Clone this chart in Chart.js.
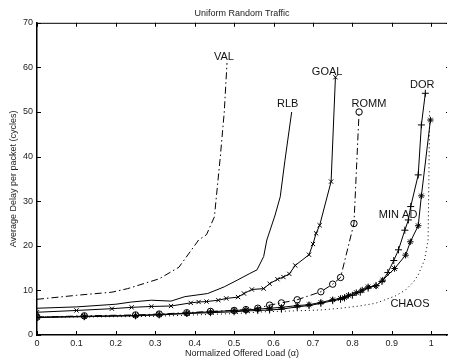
<!DOCTYPE html>
<html>
<head>
<meta charset="utf-8">
<title>Uniform Random Traffic</title>
<script src="https://cdn.jsdelivr.net/npm/chart.js@4.4.0/dist/chart.umd.min.js"></script>
<style>
    html, body { margin: 0; padding: 0; background: #fff; }
    #chart { display: block; }
</style>
</head>
<body>
<canvas id="chart" width="452" height="362"></canvas>
<script>
// axis ticks
const xTicks = [0, 0.1, 0.2, 0.3, 0.4, 0.5, 0.6, 0.7, 0.8, 0.9, 1];
const xTickLabels = ['0', '0.1', '0.2', '0.3', '0.4', '0.5', '0.6', '0.7', '0.8', '0.9', '1'];
const yTicks = [0, 10, 20, 30, 40, 50, 60, 70];

// curves (offered load -> delay in cycles)
const valLoad = [0, 0.1, 0.19, 0.23, 0.31, 0.36, 0.41, 0.43, 0.45, 0.465, 0.475, 0.482];
const valDelay = [8, 8.9, 9.6, 10.4, 12.6, 15.2, 21.3, 22.5, 26.5, 40, 50, 61];

const rlbLoad = [0, 0.1, 0.2, 0.24, 0.29, 0.34, 0.375, 0.433, 0.475, 0.508, 0.54, 0.558, 0.575, 0.583, 0.604, 0.617, 0.629, 0.646];
const rlbDelay = [6, 6.3, 6.9, 7.4, 7.8, 7.6, 8.6, 9.3, 10.8, 12.3, 13.8, 14.6, 17.6, 21.3, 26.9, 31, 39.2, 50];

const goalLoad = [0, 0.1, 0.19, 0.24, 0.29, 0.34, 0.39, 0.41, 0.43, 0.46, 0.48, 0.51, 0.525, 0.545, 0.575, 0.59, 0.61, 0.625, 0.64, 0.655, 0.69, 0.70, 0.708, 0.717, 0.746, 0.757];
const goalDelay = [5.1, 5.5, 5.9, 6.2, 6.4, 6.5, 7.2, 7.4, 7.5, 7.8, 8.2, 8.5, 9.3, 10.2, 10.4, 11.5, 12.5, 13, 13.7, 15.6, 18, 20.4, 22.8, 24.6, 34.4, 57.8];

const rommLoad = [0, 0.12, 0.25, 0.31, 0.38, 0.44, 0.5, 0.53, 0.56, 0.59, 0.62, 0.66, 0.72, 0.75, 0.77, 0.804, 0.817];
const rommDelay = [4, 4.3, 4.5, 4.7, 5.0, 5.3, 5.5, 5.7, 6.0, 6.7, 7.2, 7.9, 9.7, 11.4, 12.9, 25, 50];

const dorLoad = [0, 0.12, 0.25, 0.31, 0.38, 0.44, 0.5, 0.53, 0.56, 0.59, 0.62, 0.66, 0.69, 0.72, 0.75, 0.77, 0.78, 0.8, 0.82, 0.84, 0.86, 0.875, 0.89, 0.905, 0.917, 0.933, 0.942, 0.948, 0.967, 0.975, 0.985];
const dorDelay = [3.9, 4.1, 4.3, 4.5, 4.8, 5.0, 5.2, 5.4, 5.5, 5.6, 5.8, 6.3, 6.6, 7.1, 7.7, 8.0, 8.3, 8.9, 9.6, 10.5, 11.1, 12.0, 14.0, 16.7, 19.1, 23.5, 25.8, 28.8, 35.9, 47.1, 54.2];

const minAdLoad = [0, 0.12, 0.25, 0.31, 0.38, 0.44, 0.5, 0.53, 0.56, 0.59, 0.62, 0.66, 0.69, 0.72, 0.75, 0.77, 0.78, 0.79, 0.81, 0.825, 0.84, 0.86, 0.877, 0.907, 0.935, 0.947, 0.967, 0.975, 0.998];
const minAdDelay = [4, 4.2, 4.4, 4.6, 4.9, 5.2, 5.5, 5.6, 5.8, 6.0, 6.2, 6.6, 6.8, 7.3, 7.9, 8.2, 8.4, 8.9, 9.5, 10.1, 10.8, 11.0, 12.3, 14.9, 17.9, 20.9, 24.5, 31.2, 48.2];

const chaosLoad = [0, 0.1, 0.2, 0.3, 0.4, 0.5, 0.575, 0.65, 0.717, 0.77, 0.817, 0.858, 0.883, 0.91, 0.935, 0.955, 0.967, 0.983, 0.992, 0.994, 0.996];
const chaosDelay = [4, 4.05, 4.1, 4.2, 4.5, 4.8, 5.2, 5.4, 5.6, 6.0, 6.5, 7.1, 7.9, 8.8, 10.1, 11.9, 13.5, 16.8, 21.3, 35, 50.5];

// curve names written inside the plot, in data coordinates
const curveLabels = [
    { text: 'VAL', x: 0.474, y: 62.3 },
    { text: 'RLB', x: 0.636, y: 51.8 },
    { text: 'GOAL', x: 0.736, y: 58.9 },
    { text: 'ROMM', x: 0.842, y: 51.8 },
    { text: 'DOR', x: 0.977, y: 56.0 },
    { text: 'MIN AD', x: 0.916, y: 26.9 },
    { text: 'CHAOS', x: 0.946, y: 6.95 }
];

const FONT = '"Liberation Sans", Arial, Helvetica, sans-serif';
const DASH_DOT = [7, 3, 1.5, 3];

const toPoints = (xs, ys) => xs.map((x, i) => ({ x: x, y: ys[i] }));

const series = (label, xs, ys, style) => Object.assign({
    label: label,
    data: toPoints(xs, ys),
    borderColor: '#000',
    backgroundColor: 'transparent',
    borderWidth: 1,
    pointRadius: 0,
    pointBorderColor: '#000',
    pointBackgroundColor: 'transparent',
    pointBorderWidth: 1,
    tension: 0
}, style);

// MATLAB style box: inward ticks, top edge and curve names
const matlabAxes = {
    id: 'matlabAxes',
    afterDatasetsDraw(chart) {
        const { ctx, chartArea: area, scales: { x, y } } = chart;
        ctx.save();
        ctx.strokeStyle = '#000';
        ctx.lineWidth = 1;
        ctx.beginPath();
        ctx.moveTo(area.left, area.top + 0.5);
        ctx.lineTo(area.right, area.top + 0.5);
        xTicks.forEach(v => {
            const px = Math.round(x.getPixelForValue(v)) + 0.5;
            ctx.moveTo(px, area.bottom);
            ctx.lineTo(px, area.bottom - 4);
            ctx.moveTo(px, area.top);
            ctx.lineTo(px, area.top + 4);
        });
        yTicks.forEach(v => {
            const py = Math.round(y.getPixelForValue(v)) + 0.5;
            ctx.moveTo(area.left, py);
            ctx.lineTo(area.left + 4, py);
            ctx.moveTo(area.right, py);
            ctx.lineTo(area.right - 1, py);
        });
        ctx.stroke();

        ctx.font = '11px ' + FONT;
        ctx.fillStyle = '#111';
        ctx.textAlign = 'center';
        ctx.textBaseline = 'middle';
        curveLabels.forEach(l => {
            ctx.fillText(l.text, x.getPixelForValue(l.x), y.getPixelForValue(l.y));
        });
        ctx.restore();
    }
};

new Chart(document.getElementById('chart'), {
    type: 'line',
    data: {
        datasets: [
            series('VAL', valLoad, valDelay, { borderDash: DASH_DOT }),
            series('RLB', rlbLoad, rlbDelay, {}),
            series('GOAL', goalLoad, goalDelay, { pointStyle: 'crossRot', pointRadius: 3 }),
            series('ROMM', rommLoad, rommDelay, { borderDash: DASH_DOT, pointStyle: 'circle', pointRadius: 3.2 }),
            series('DOR', dorLoad, dorDelay, { pointStyle: 'cross', pointRadius: 3.5 }),
            series('MIN AD', minAdLoad, minAdDelay, { pointStyle: 'star', pointRadius: 3.2 }),
            series('CHAOS', chaosLoad, chaosDelay, { borderDash: [1, 3] })
        ]
    },
    options: {
        responsive: false,
        animation: false,
        devicePixelRatio: 1,
        layout: { padding: 0 },
        plugins: {
            legend: { display: false },
            tooltip: { enabled: false },
            title: {
                display: true,
                text: 'Uniform Random Traffic',
                fullSize: false,
                color: '#222',
                font: { family: FONT, size: 9, weight: 'normal' },
                padding: { top: 8, bottom: 4 }
            }
        },
        scales: {
            x: {
                type: 'linear',
                min: 0,
                max: 1.04,
                afterBuildTicks: s => { s.ticks = xTicks.map(v => ({ value: v })); },
                afterFit: s => { s.height = 27; },
                ticks: {
                    callback: (v, i) => xTickLabels[i],
                    autoSkip: false,
                    maxRotation: 0,
                    padding: 3,
                    color: '#222',
                    font: { family: FONT, size: 9 }
                },
                grid: { display: false, drawTicks: false },
                border: { color: '#000', width: 1.5 },
                title: {
                    display: true,
                    text: 'Normalized Offered Load (α)',
                    color: '#222',
                    font: { family: FONT, size: 9 },
                    padding: { top: 0, bottom: 3 }
                }
            },
            y: {
                min: 0,
                max: 70,
                afterBuildTicks: s => { s.ticks = yTicks.map(v => ({ value: v })); },
                afterFit: s => { s.width = 37; },
                ticks: {
                    padding: 4,
                    color: '#222',
                    font: { family: FONT, size: 9 }
                },
                grid: { display: false, drawTicks: false },
                border: { color: '#000', width: 1.5 },
                title: {
                    display: true,
                    text: 'Average Delay per packet (cycles)',
                    color: '#222',
                    font: { family: FONT, size: 9 },
                    padding: { top: 8, bottom: 0 }
                }
            }
        }
    },
    plugins: [matlabAxes]
});
</script>
</body>
</html>
